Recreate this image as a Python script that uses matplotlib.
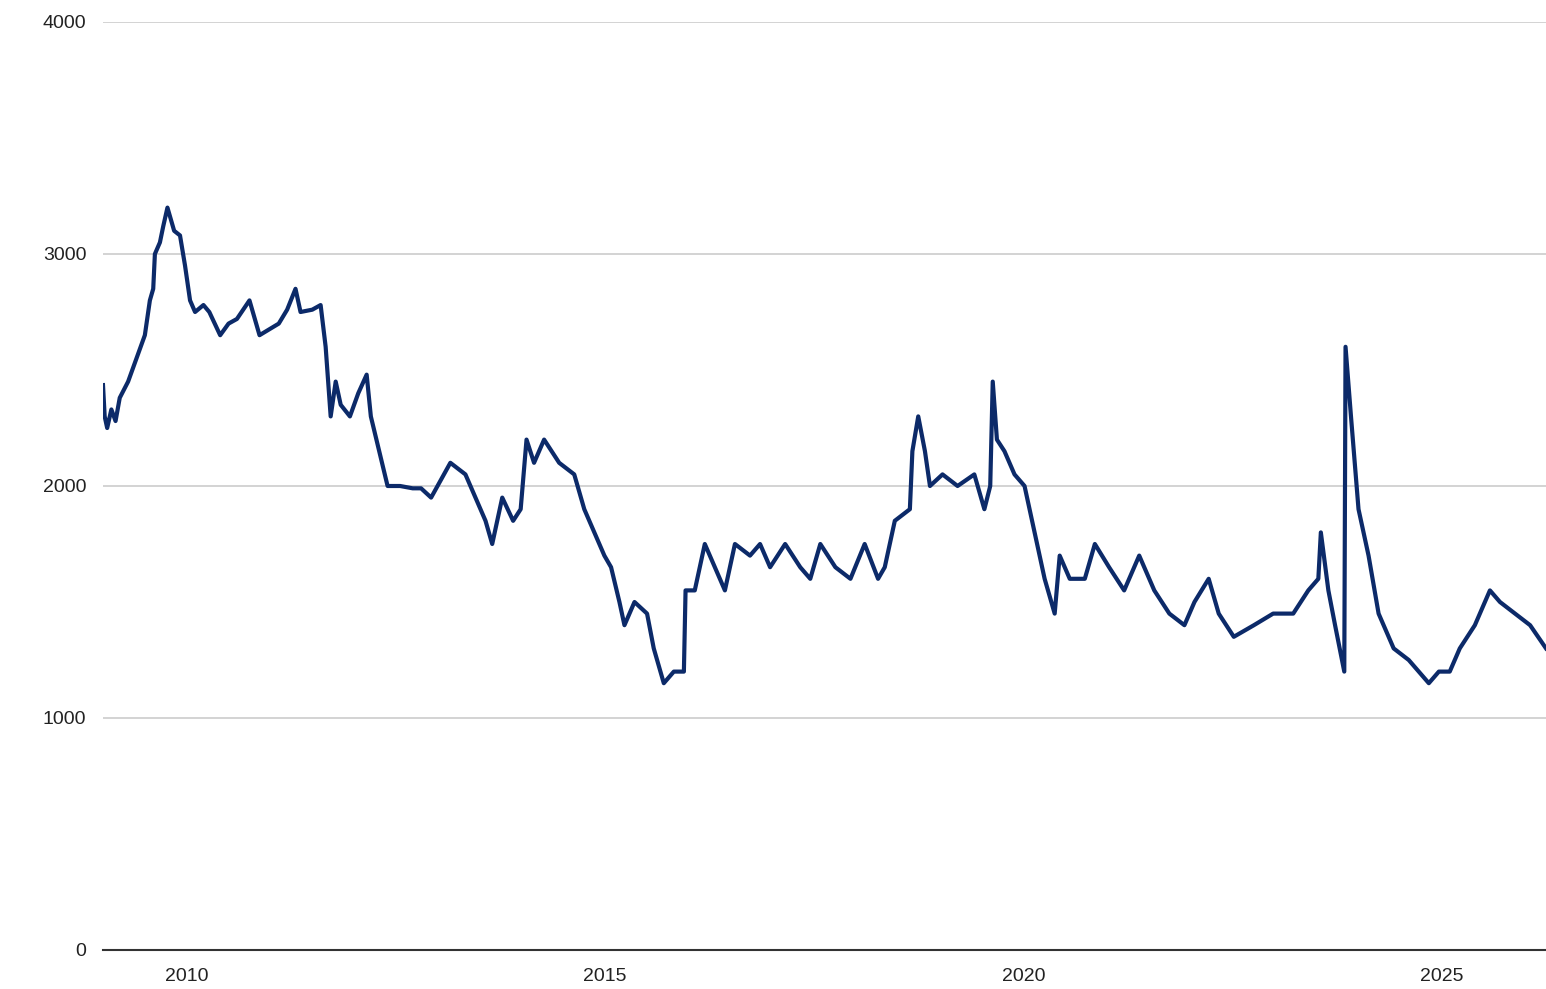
import matplotlib
matplotlib.use("Agg")
import matplotlib.pyplot as plt

# (pixel-read) time in decimal years and value
years = [2009.0,2009.02,2009.05,2009.1,2009.15,2009.2,2009.3,2009.4,2009.5,2009.56,2009.6,2009.62,2009.68,2009.72,2009.77,2009.85,2009.92,2009.98,2010.04,2010.1,2010.2,2010.27,2010.4,2010.5,2010.6,2010.75,2010.87,2011.1,2011.2,2011.3,2011.36,2011.5,2011.6,2011.66,2011.72,2011.78,2011.84,2011.95,2012.05,2012.15,2012.2,2012.3,2012.4,2012.55,2012.7,2012.8,2012.92,2013.15,2013.33,2013.45,2013.57,2013.65,2013.77,2013.9,2013.99,2014.06,2014.15,2014.27,2014.45,2014.63,2014.75,2014.87,2014.99,2015.07,2015.17,2015.23,2015.35,2015.5,2015.58,2015.7,2015.82,2015.94,2015.96,2016.07,2016.19,2016.31,2016.43,2016.55,2016.73,2016.85,2016.97,2017.15,2017.33,2017.45,2017.57,2017.75,2017.93,2018.1,2018.26,2018.34,2018.46,2018.64,2018.67,2018.74,2018.82,2018.88,2019.03,2019.21,2019.41,2019.53,2019.6,2019.63,2019.68,2019.77,2019.89,2020.01,2020.13,2020.25,2020.37,2020.43,2020.55,2020.73,2020.85,2021.02,2021.2,2021.38,2021.56,2021.74,2021.92,2022.04,2022.21,2022.33,2022.51,2022.75,2022.98,2023.22,2023.4,2023.52,2023.55,2023.64,2023.72,2023.83,2023.845,2023.91,2024.0,2024.12,2024.24,2024.42,2024.6,2024.84,2024.96,2025.09,2025.21,2025.39,2025.57,2025.69,2025.87,2026.05,2026.24]
values = [2435,2300,2250,2330,2280,2380,2450,2550,2650,2800,2850,3000,3050,3120,3200,3100,3080,2950,2800,2750,2780,2750,2650,2700,2720,2800,2650,2700,2760,2850,2750,2760,2780,2600,2300,2450,2350,2300,2400,2480,2300,2150,2000,2000,1990,1990,1950,2100,2050,1950,1850,1750,1950,1850,1900,2200,2100,2200,2100,2050,1900,1800,1700,1650,1500,1400,1500,1450,1300,1150,1200,1200,1550,1550,1750,1650,1550,1750,1700,1750,1650,1750,1650,1600,1750,1650,1600,1750,1600,1650,1850,1900,2150,2300,2150,2000,2050,2000,2050,1900,2000,2450,2200,2150,2050,2000,1800,1600,1450,1700,1600,1600,1750,1650,1550,1700,1550,1450,1400,1500,1600,1450,1350,1400,1450,1450,1550,1600,1800,1550,1400,1200,2600,2300,1900,1700,1450,1300,1250,1150,1200,1200,1300,1400,1550,1500,1450,1400,1300]
yticks = [0, 1000, 2000, 3000, 4000]
xticks = [2010, 2015, 2020, 2025]

plt.rcParams['font.family'] = ['Liberation Sans', 'DejaVu Sans']
fig = plt.figure(figsize=(15.46, 9.89), dpi=100)
ax = fig.add_axes([103/1546, 1-950/989, 1-103/1546, (950-22)/989])
ax.plot(years, values, color='#0c2a69', lw=3)
ax.set_xlim(2009.0, 2026.24)
ax.set_ylim(0, 4000)
ax.set_yticks(yticks)
ax.set_yticklabels([str(t) for t in yticks])
ax.set_xticks(xticks)
ax.set_xticklabels([str(t) for t in xticks])
ax.grid(axis='y', color='#cccccc', lw=1.2)
ax.set_axisbelow(True)
for s in ['top', 'right', 'left']:
    ax.spines[s].set_visible(False)
ax.spines['bottom'].set_color('#333333')
ax.spines['bottom'].set_linewidth(1.5)
ax.tick_params(length=0, labelsize=14, colors='#222222')
ax.tick_params(axis='y', pad=12)
ax.tick_params(axis='x', pad=13)
fig.savefig('out.png')
